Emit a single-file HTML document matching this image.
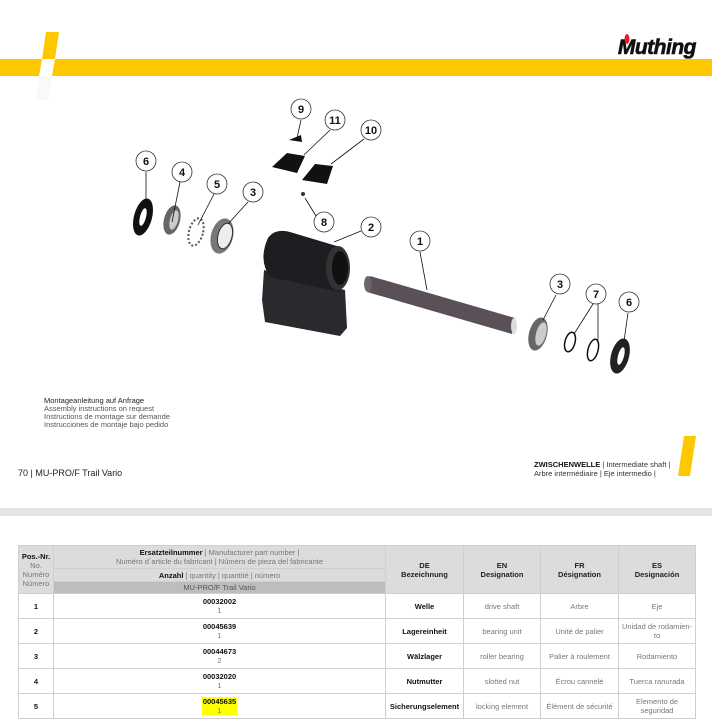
<!DOCTYPE html>
<html><head><meta charset="utf-8"><style>
*{margin:0;padding:0;box-sizing:border-box}
body{width:712px;height:720px;overflow:hidden;background:#fff;font-family:"Liberation Sans",sans-serif;position:relative}
.abs{position:absolute}
table{border-collapse:collapse;position:absolute;left:18px;top:545px;width:677px;font-size:7.5px;color:#222;table-layout:fixed}
td{border:1px solid #cfcfcf;text-align:center;vertical-align:middle;padding:0 2px;line-height:9px}
.h{background:#dcdcdc}
.g{color:#777}
b{font-weight:bold;color:#111}
</style></head><body>
<div class="abs" style="left:0;top:59px;width:712px;height:17px;background:#fdc800"></div>
<svg class="abs" style="left:0;top:0" width="712" height="720">
<polygon points="46,32 59,32 55,59 42,59" fill="#fdc800"/>
<polygon points="42,59 55,59 52,76 39,76" fill="#fff"/>
<polygon points="39,76 52,76 49,100 36,100" fill="#f9f9f9"/>
<polygon points="684,436 696,436 690,476 678,476" fill="#fdc800"/>
<text x="696" y="54" text-anchor="end" font-family="Liberation Sans" font-weight="bold" font-style="italic" font-size="21" fill="#111" stroke="#111" stroke-width="0.6" letter-spacing="-0.5">Muthing</text>
<ellipse cx="627" cy="39" rx="2.5" ry="5" fill="#e02020"/>
<!-- parts -->
<g>
<ellipse cx="143" cy="217" rx="9" ry="19" transform="rotate(15 143 217)" fill="#111"/>
<ellipse cx="143" cy="217" rx="3" ry="9" transform="rotate(15 143 217)" fill="#fff"/>
<ellipse cx="172" cy="220" rx="8" ry="15" transform="rotate(15 172 220)" fill="#666"/>
<ellipse cx="174" cy="220" rx="4" ry="10" transform="rotate(15 174 220)" fill="#ccc"/>
<ellipse cx="196" cy="232" rx="7" ry="14" transform="rotate(15 196 232)" fill="none" stroke="#555" stroke-width="2" stroke-dasharray="2 2"/>
<ellipse cx="222" cy="236" rx="11" ry="18" transform="rotate(15 222 236)" fill="#777"/>
<ellipse cx="225" cy="236" rx="7" ry="13" transform="rotate(15 225 236)" fill="#eee" stroke="#333"/>
<polygon points="264,270 345,290 347,328 340,336 265,322 262,300" fill="#2a2a2e"/>
<path d="M268,238 Q275,228 290,232 L340,247 L340,292 L270,277 Q258,260 268,238Z" fill="#1e1e22"/>
<ellipse cx="338" cy="268" rx="12" ry="22" fill="#333"/>
<ellipse cx="340" cy="268" rx="8" ry="17" fill="#111"/>
<polygon points="370,276 515,318 512,334 367,292" fill="#5a5058"/>
<ellipse cx="368" cy="284" rx="4" ry="8" fill="#6b6470"/>
<ellipse cx="514" cy="326" rx="3" ry="8" fill="#ddd"/>
<ellipse cx="538" cy="334" rx="9" ry="17" transform="rotate(15 538 334)" fill="#666"/>
<ellipse cx="541" cy="334" rx="5" ry="12" transform="rotate(15 541 334)" fill="#ccc"/>
<ellipse cx="570" cy="342" rx="5" ry="10" transform="rotate(15 570 342)" fill="none" stroke="#111" stroke-width="1.5"/>
<ellipse cx="593" cy="350" rx="5" ry="11" transform="rotate(15 593 350)" fill="none" stroke="#111" stroke-width="1.5"/>
<ellipse cx="620" cy="356" rx="9" ry="18" transform="rotate(15 620 356)" fill="#222"/>
<ellipse cx="621" cy="356" rx="3" ry="9" transform="rotate(15 621 356)" fill="#fff"/>
<polygon points="289,140 301,135 302,142" fill="#111"/>
<polygon points="287,153 305,156 297,173 272,167" fill="#111"/>
<polygon points="315,164 333,166 327,184 302,180" fill="#111"/>
<circle cx="303" cy="194" r="2" fill="#333"/>
</g>
<g stroke="#111" stroke-width="0.8" fill="none">
<line x1="146" y1="172" x2="146" y2="206"/><line x1="180" y1="182" x2="172" y2="222"/>
<line x1="214" y1="194" x2="198" y2="225"/><line x1="248" y1="202" x2="228" y2="224"/>
<line x1="301" y1="120" x2="297" y2="138"/><line x1="330" y1="130" x2="304" y2="155"/>
<line x1="364" y1="139" x2="331" y2="164"/><line x1="316" y1="216" x2="305" y2="198"/>
<line x1="361" y1="231" x2="334" y2="242"/><line x1="420" y1="252" x2="427" y2="290"/>
<line x1="556" y1="295" x2="543" y2="320"/><line x1="593" y1="304" x2="574" y2="334"/>
<line x1="598" y1="304" x2="598" y2="340"/><line x1="628" y1="313" x2="624" y2="341"/>
</g>
<g font-family="Liberation Sans" font-weight="bold" font-size="11" text-anchor="middle" fill="#111">
<g fill="#fff" stroke="#333" stroke-width="0.8">
<circle cx="301" cy="109" r="10"/><circle cx="335" cy="120" r="10"/><circle cx="371" cy="130" r="10"/>
<circle cx="146" cy="161" r="10"/><circle cx="182" cy="172" r="10"/><circle cx="217" cy="184" r="10"/>
<circle cx="253" cy="192" r="10"/><circle cx="324" cy="222" r="10"/><circle cx="371" cy="227" r="10"/>
<circle cx="420" cy="241" r="10"/><circle cx="560" cy="284" r="10"/><circle cx="596" cy="294" r="10"/>
<circle cx="629" cy="302" r="10"/></g>
<text x="301" y="113">9</text><text x="335" y="124">11</text><text x="371" y="134">10</text>
<text x="146" y="165">6</text><text x="182" y="176">4</text><text x="217" y="188">5</text>
<text x="253" y="196">3</text><text x="324" y="226">8</text><text x="371" y="231">2</text>
<text x="420" y="245">1</text><text x="560" y="288">3</text><text x="596" y="298">7</text>
<text x="629" y="306">6</text>
</g>
</svg>
<div class="abs" style="left:44px;top:397px;font-size:7.5px;line-height:8px;color:#555"><span style="color:#222">Montageanleitung auf Anfrage</span><br>Assembly instructions on request<br>Instructions de montage sur demande<br>Instrucciones de montaje bajo pedido</div>
<div class="abs" style="left:18px;top:468px;font-size:9px;color:#222">70 | MU-PRO/F Trail Vario</div>
<div class="abs" style="left:534px;top:460px;font-size:7.5px;line-height:9px;color:#333"><b>ZWISCHENWELLE</b> | Intermediate shaft |<br>Arbre intermédiaire | Eje intermedio |</div>
<div class="abs" style="left:0;top:508px;width:712px;height:8px;background:#e3e3e3"></div>
<table>
<colgroup><col style="width:35px"><col style="width:332px"><col style="width:78px"><col style="width:77px"><col style="width:78px"><col style="width:77px"></colgroup>
<tr style="height:23px"><td class="h" rowspan="3"><b>Pos.-Nr.</b><br><span class="g">No.<br>Numéro<br>Número</span></td><td class="h"><b>Ersatzteilnummer</b> <span class="g">| Manufacturer part number |<br>Numéro d´article du fabricant | Número de pieza del fabricante</span></td><td class="h" rowspan="3" style="font-weight:bold">DE<br>Bezeichnung</td><td class="h" rowspan="3" style="font-weight:bold">EN<br>Designation</td><td class="h" rowspan="3" style="font-weight:bold">FR<br>Désignation</td><td class="h" rowspan="3" style="font-weight:bold">ES<br>Designación</td></tr>
<tr style="height:13px"><td class="h"><b>Anzahl</b> <span class="g">| quantity | quantité | número</span></td></tr>
<tr style="height:12px"><td style="background:#bdbdbd;color:#555">MU-PRO/F Trail Vario</td></tr>
<tr style="height:25px"><td><b>1</b></td><td><b>00032002</b><br><span class="g">1</span></td><td><b>Welle</b></td><td class="g">drive shaft</td><td class="g">Arbre</td><td class="g">Eje</td></tr>
<tr style="height:25px"><td><b>2</b></td><td><b>00045639</b><br><span class="g">1</span></td><td><b>Lagereinheit</b></td><td class="g">bearing unit</td><td class="g">Unité de palier</td><td class="g">Unidad de rodamien-<br>to</td></tr>
<tr style="height:25px"><td><b>3</b></td><td><b>00044673</b><br><span class="g">2</span></td><td><b>Wälzlager</b></td><td class="g">roller bearing</td><td class="g">Palier à roulement</td><td class="g">Rodamiento</td></tr>
<tr style="height:25px"><td><b>4</b></td><td><b>00032020</b><br><span class="g">1</span></td><td><b>Nutmutter</b></td><td class="g">slotted nut</td><td class="g">Écrou cannelé</td><td class="g">Tuerca ranurada</td></tr>
<tr style="height:25px"><td><b>5</b></td><td><span style="background:#ffff00;display:inline-block;padding:0 1px"><b>00045635</b><br><span class="g">1</span></span></td><td><b>Sicherungselement</b></td><td class="g">locking element</td><td class="g">Élément de sécurité</td><td class="g">Elemento de<br>seguridad</td></tr>
</table>
</body></html>
